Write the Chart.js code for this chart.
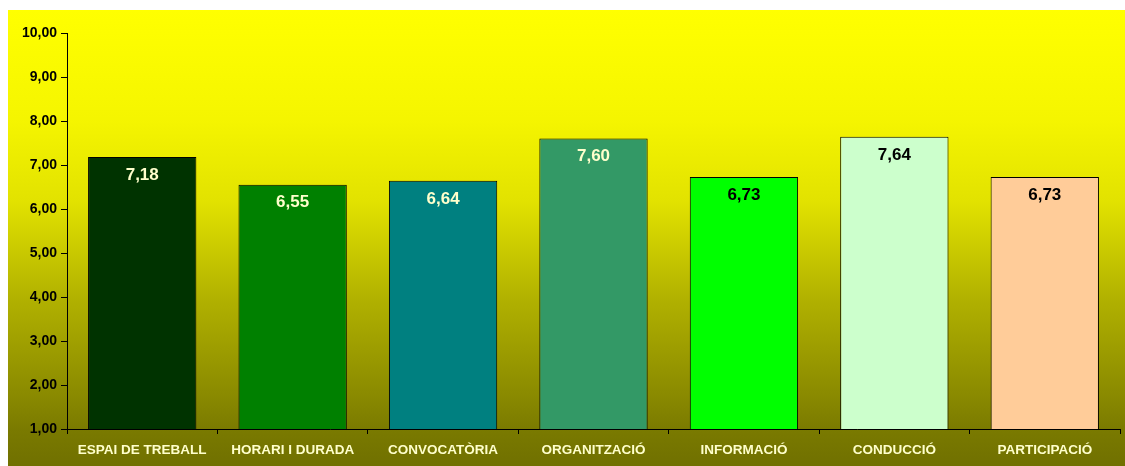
<!DOCTYPE html>
<html>
<head>
<meta charset="utf-8">
<script src="https://cdn.jsdelivr.net/npm/chart.js@4"></script>
<style>
  html, body { margin: 0; padding: 0; background: #fff; }
  #wrap { width: 1125px; height: 466px; }
</style>
</head>
<body>
<div id="wrap"><canvas id="chart" width="1125" height="466"></canvas></div>
<script>
// categories and values
const categories = ['ESPAI DE TREBALL', 'HORARI I DURADA', 'CONVOCATÒRIA', 'ORGANITZACIÓ', 'INFORMACIÓ', 'CONDUCCIÓ', 'PARTICIPACIÓ'];
const scores = [7.18, 6.55, 6.64, 7.60, 6.73, 7.64, 6.73];
const barColors = ['#003300', '#008000', '#008080', '#339966', '#00FF00', '#CCFFCC', '#FFCC99'];
const labelColors = ['#FFFFCC', '#FFFFCC', '#FFFFCC', '#FFFFCC', '#000000', '#000000', '#000000'];

const fmt = v => v.toFixed(2).replace('.', ',');

// yellow → olive fill behind everything, starts a bit in from the top-left
const bgPlugin = {
  id: 'bg',
  beforeDraw(chart) {
    const { ctx, width, height } = chart;
    const g = ctx.createLinearGradient(0, 10, 0, height);
    g.addColorStop(0, '#FFFF00');
    g.addColorStop(0.24, '#F5F500');
    g.addColorStop(0.42, '#E2E200');
    g.addColorStop(0.64, '#B0B000');
    g.addColorStop(0.855, '#888800');
    g.addColorStop(0.92, '#7A7A00');
    g.addColorStop(1, '#707000');
    ctx.save();
    ctx.fillStyle = g;
    ctx.fillRect(8, 10, width - 8, height - 10);
    ctx.restore();
  },
};

// value labels inside the top of each bar
const valuePlugin = {
  id: 'values',
  afterDatasetsDraw(chart) {
    const { ctx } = chart;
    const meta = chart.getDatasetMeta(0);
    ctx.save();
    ctx.font = 'bold 17px "Liberation Sans", Arial, sans-serif';
    ctx.textAlign = 'center';
    ctx.textBaseline = 'middle';
    meta.data.forEach((bar, i) => {
      ctx.fillStyle = labelColors[i];
      ctx.fillText(fmt(scores[i]), bar.x, bar.y + 18);
    });
    ctx.restore();
  },
};

new Chart(document.getElementById('chart'), {
  type: 'bar',
  data: {
    labels: categories,
    datasets: [{
      data: scores,
      backgroundColor: barColors,
      borderColor: '#000000',
      borderWidth: 1,
      borderSkipped: false,
      categoryPercentage: 1,
      barPercentage: 0.72,
    }],
  },
  plugins: [bgPlugin, valuePlugin],
  options: {
    responsive: false,
    animation: false,
    layout: { padding: { left: 8, right: 5, top: 33, bottom: 0 } },
    plugins: { legend: { display: false }, tooltip: { enabled: false } },
    scales: {
      x: {
        grid: { display: true, drawOnChartArea: false, drawTicks: true, tickLength: 5, color: '#000000', offset: true },
        border: { color: '#000000', width: 1 },
        ticks: {
          color: '#FFFFCC',
          font: { family: '"Liberation Sans", Arial, sans-serif', size: 13.5, weight: 'bold' },
          padding: 8,
          maxRotation: 0,
        },
        afterFit(scale) { scale.height = 37; },
      },
      y: {
        min: 1,
        max: 10,
        grid: { display: true, drawOnChartArea: false, drawTicks: true, tickLength: 6, color: '#000000' },
        border: { color: '#000000', width: 1 },
        ticks: {
          stepSize: 1,
          color: '#000000',
          padding: 4,
          font: { family: '"Liberation Sans", Arial, sans-serif', size: 14, weight: 'bold' },
          callback: v => fmt(v),
        },
        afterFit(scale) { scale.width = 59; },
      },
    },
  },
});
</script>
</body>
</html>
